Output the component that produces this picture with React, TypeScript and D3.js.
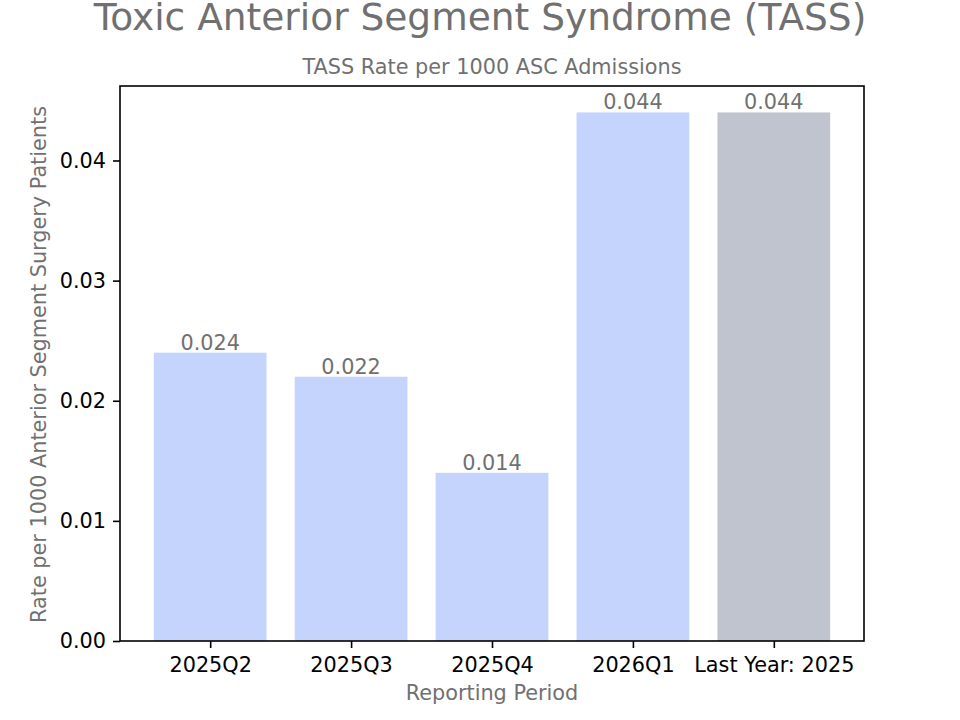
import React, { useRef, useEffect } from 'react';
import * as d3 from 'd3';

const periods = ['2025Q2', '2025Q3', '2025Q4', '2026Q1', 'Last Year: 2025'];
const rates = [0.024, 0.022, 0.014, 0.044, 0.044];
const barColors = ['#c5d4fd', '#c5d4fd', '#c5d4fd', '#c5d4fd', '#c0c4cf'];
const yTicks = [0, 0.01, 0.02, 0.03, 0.04];

const App = () => {
  const svgRef = useRef<SVGSVGElement>(null);

  useEffect(() => {
    const svg = d3.select(svgRef.current);
    svg.selectAll('*').remove();

    const W = 960;
    const H = 720;
    const margin = { top: 86, right: 96, bottom: 79, left: 120 };
    const font = 'DejaVu Sans, sans-serif';
    const gray = '#707070';
    const fs = 20.8;

    // matplotlib-style limits: bars of width 0.8 plus 5% margins
    const n = periods.length;
    const x = d3.scaleLinear()
      .domain([-0.4 - 0.05 * (n - 0.2), n - 0.6 + 0.05 * (n - 0.2)])
      .range([margin.left, W - margin.right]);
    const y = d3.scaleLinear()
      .domain([0, d3.max(rates)! * 1.05])
      .range([H - margin.bottom, margin.top]);

    svg.append('rect').attr('width', W).attr('height', H).attr('fill', '#fff');

    // bars
    svg.append('g')
      .selectAll('rect')
      .data(rates)
      .enter().append('rect')
      .attr('x', (d, i) => x(i - 0.4))
      .attr('width', x(0.8) - x(0))
      .attr('y', d => y(d))
      .attr('height', d => y(0) - y(d))
      .attr('fill', (d, i) => barColors[i]);

    // value labels
    svg.append('g')
      .selectAll('text')
      .data(rates)
      .enter().append('text')
      .attr('x', (d, i) => x(i))
      .attr('y', d => y(d) - 3)
      .attr('text-anchor', 'middle')
      .attr('font-family', font)
      .attr('font-size', fs)
      .attr('fill', gray)
      .text(d => d3.format('.3f')(d));

    // x axis
    const xAxis = svg.append('g')
      .attr('transform', `translate(0,${H - margin.bottom})`)
      .call(d3.axisBottom(x)
        .tickValues(d3.range(n))
        .tickFormat((d) => periods[+d])
        .tickSize(7)
        .tickPadding(9)
        .tickSizeOuter(0));
    xAxis.select('.domain').remove();
    xAxis.selectAll('line').attr('stroke', '#000').attr('stroke-width', 1.6);
    xAxis.selectAll('text')
      .attr('font-family', font).attr('font-size', fs).attr('fill', '#000');

    // y axis
    const yAxis = svg.append('g')
      .attr('transform', `translate(${margin.left},0)`)
      .call(d3.axisLeft(y)
        .tickValues(yTicks)
        .tickFormat(d3.format('.2f'))
        .tickSize(7)
        .tickPadding(7)
        .tickSizeOuter(0));
    yAxis.select('.domain').remove();
    yAxis.selectAll('line').attr('stroke', '#000').attr('stroke-width', 1.6);
    yAxis.selectAll('text')
      .attr('font-family', font).attr('font-size', fs).attr('fill', '#000');

    // frame
    svg.append('rect')
      .attr('x', margin.left)
      .attr('y', margin.top)
      .attr('width', W - margin.left - margin.right)
      .attr('height', H - margin.top - margin.bottom)
      .attr('fill', 'none')
      .attr('stroke', '#000')
      .attr('stroke-width', 1.6);

    // titles and labels
    svg.append('text')
      .attr('x', W / 2).attr('y', 30)
      .attr('text-anchor', 'middle')
      .attr('font-family', font).attr('font-size', 37.5).attr('fill', gray)
      .text('Toxic Anterior Segment Syndrome (TASS)');

    svg.append('text')
      .attr('x', (margin.left + W - margin.right) / 2).attr('y', 74)
      .attr('text-anchor', 'middle')
      .attr('font-family', font).attr('font-size', fs).attr('fill', gray)
      .text('TASS Rate per 1000 ASC Admissions');

    svg.append('text')
      .attr('x', (margin.left + W - margin.right) / 2).attr('y', 700)
      .attr('text-anchor', 'middle')
      .attr('font-family', font).attr('font-size', fs).attr('fill', gray)
      .text('Reporting Period');

    svg.append('text')
      .attr('transform', `translate(46,${(margin.top + H - margin.bottom) / 2 + 1}) rotate(-90)`)
      .attr('text-anchor', 'middle')
      .attr('font-family', font).attr('font-size', fs).attr('fill', gray)
      .text('Rate per 1000 Anterior Segment Surgery Patients');
  }, []);

  return (
    <div style={{ position: 'absolute', left: 0, top: 0 }}>
      <svg ref={svgRef} width="960" height="720" style={{ display: 'block' }}></svg>
    </div>
  );
};

export default App;
